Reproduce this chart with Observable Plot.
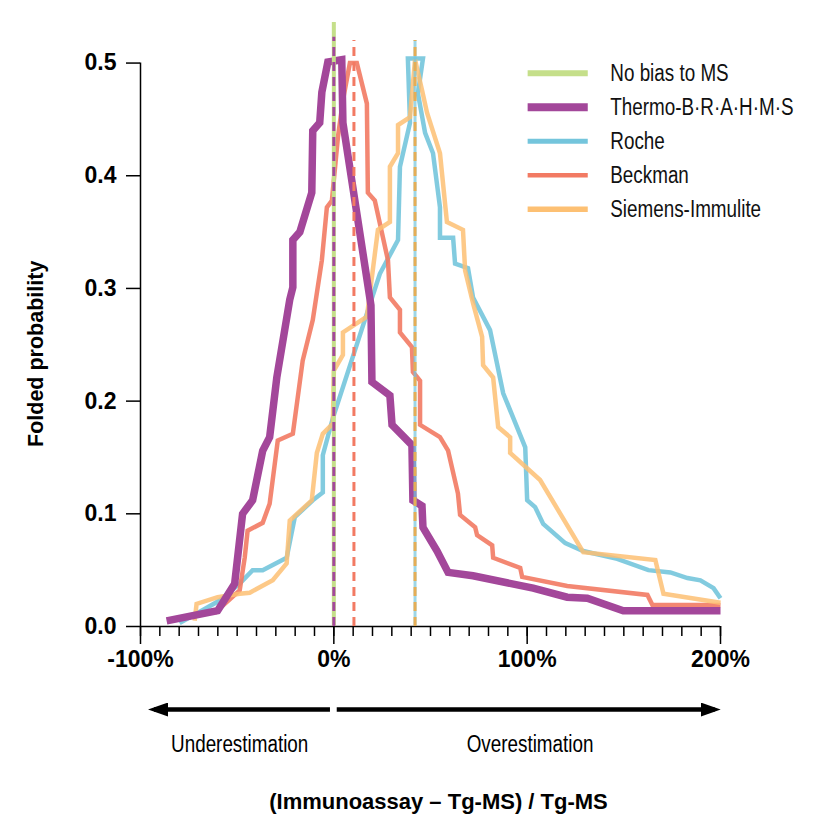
<!DOCTYPE html>
<html><head><meta charset="utf-8">
<script src="https://cdn.jsdelivr.net/npm/d3@7"></script>
<script src="https://cdn.jsdelivr.net/npm/@observablehq/plot@0.6"></script>
<style>
body{margin:0;background:#fff;}
#wrap{width:827px;background:#fff;}
#wrap svg{display:block;}
.title{font-family:"Liberation Sans",Arial,sans-serif;font-weight:bold;font-size:22px;line-height:26px;height:26px;margin-top:19px;padding-left:50px;text-align:center;color:#000;}
</style></head><body><div id="wrap"></div><script>
// ---- data ----
const thermoX = [-86.5,-60.1,-51.3,-47.2,-42.0,-36.8,-33.2,-29.5,-22.8,-21.2,-21.2,-17.6,-11.4,-10.9,-7.3,-6.2,-3.1,4.1,4.7,19.2,19.7,29.0,30.1,40.4,40.9,45.6,46.1,53.4,59.1,72.0,103.1,120.7,131.1,149.7,200];
const thermoY = [0.005,0.014,0.038,0.100,0.112,0.156,0.168,0.221,0.290,0.301,0.343,0.350,0.385,0.440,0.447,0.474,0.501,0.503,0.447,0.285,0.217,0.205,0.179,0.161,0.112,0.107,0.088,0.067,0.048,0.045,0.034,0.026,0.025,0.014,0.014];

const rocheX = [-79.8,-59.1,-48.7,-42.0,-36.8,-24.4,-20.2,-10.9,-5.7,-5.7,-0.5,23.8,33.2,34.2,39.4,38.3,46.1,43.5,47.2,51.3,54.9,54.9,61.7,62.7,69.4,72.0,80.8,87.6,99.0,100.0,104.1,108.3,119.7,129.0,146.6,162.7,174.1,182.9,189.6,196.4,200];
const rocheY = [0.003,0.023,0.038,0.050,0.050,0.061,0.097,0.112,0.119,0.152,0.185,0.313,0.343,0.408,0.447,0.504,0.504,0.473,0.438,0.420,0.372,0.345,0.345,0.322,0.318,0.292,0.263,0.207,0.159,0.112,0.106,0.091,0.074,0.067,0.060,0.050,0.048,0.043,0.041,0.034,0.025];

const beckmanX = [-61.7,-48.7,-46.1,-44.6,-36.8,-33.2,-29.0,-21.2,-16.1,-10.9,-6.2,-3.6,-1.0,2.1,4.7,8.3,11.9,17.1,17.6,21.2,28.0,29.0,34.2,34.2,40.4,40.9,44.6,44.6,54.9,59.1,64.2,65.3,73.1,74.1,81.9,82.4,96.4,97.4,120.7,162.2,164.8,200];
const beckmanY = [0.012,0.032,0.061,0.085,0.092,0.109,0.165,0.171,0.236,0.272,0.325,0.372,0.378,0.434,0.467,0.500,0.500,0.464,0.385,0.378,0.325,0.292,0.281,0.261,0.248,0.226,0.218,0.179,0.168,0.156,0.118,0.099,0.088,0.081,0.072,0.061,0.052,0.044,0.036,0.028,0.019,0.019];

const siemensX = [-72.0,-71.0,-60.1,-48.7,-43.5,-31.6,-24.4,-22.8,-11.4,-8.8,-5.7,-0.5,0.0,4.7,4.7,17.1,22.8,29.0,29.0,33.2,33.2,39.4,42.0,45.6,48.2,54.9,58.5,66.8,67.9,72.0,76.7,77.2,82.4,85.0,91.2,91.2,106.7,129.0,166.3,170.5,200];
const siemensY = [0.005,0.020,0.026,0.029,0.030,0.041,0.056,0.094,0.112,0.154,0.171,0.180,0.227,0.241,0.261,0.275,0.352,0.359,0.408,0.420,0.445,0.452,0.503,0.476,0.456,0.420,0.359,0.352,0.316,0.287,0.257,0.232,0.221,0.177,0.168,0.154,0.130,0.066,0.059,0.029,0.021];

// medians (vertical dashed reference lines)
const medianNames = ["No bias to MS","Thermo-B·R·A·H·M·S","Beckman","Roche","Siemens-Immulite"];
const medianX = [0, 0, 10.4, 42, 42];

// legend
const legendNames = ["No bias to MS","Thermo-B·R·A·H·M·S","Roche","Beckman","Siemens-Immulite"];
const colors = {
  "No bias to MS": "#c5df8a",
  "Thermo-B·R·A·H·M·S": "#a3479a",
  "Roche": "#74c5dc",
  "Beckman": "#f27a63",
  "Siemens-Immulite": "#fdc073"
};

// axes
const xMajorTicks = [-100, 0, 100, 200];
const xMinorTicks = d3.range(-100, 201, 10);
const yTicks = [0, 0.1, 0.2, 0.3, 0.4, 0.5];

// annotation below the axis
const arrowLabels = ["Underestimation", "Overestimation"];
const arrowFrom = [-2, 1.5];
const arrowTo = [-93, 197];
const arrowLabelX = [-48.7, 101.5];
const xTitle = "(Immunoassay – Tg-MS) / Tg-MS";
const yTitle = "Folded probability";

// ---- build ----
const FONT = '"Liberation Sans", Arial, Helvetica, sans-serif';

const toRows = (xs, ys) => xs.map((x, i) => ({x, y: ys[i]}));
const series = [
  {name: "Roche", rows: toRows(rocheX, rocheY), w: 4.5, o: 0.9},
  {name: "Beckman", rows: toRows(beckmanX, beckmanY), w: 4.5, o: 0.9},
  {name: "Siemens-Immulite", rows: toRows(siemensX, siemensY), w: 4.5, o: 0.85},
  {name: "Thermo-B·R·A·H·M·S", rows: toRows(thermoX, thermoY), w: 7.5, o: 1}
];
const medians = medianNames.map((name, i) => ({name, x: medianX[i]}));
const legendW = [6, 8, 5, 4.5, 5.5];
const legend = legendNames.map((name, i) => ({name, y: 0.491 - i * 0.0302, w: legendW[i]}));

const lineOpts = {strokeLinejoin: "miter", strokeMiterlimit: 3, strokeLinecap: "butt"};

const main = Plot.plot({
  width: 827, height: 690,
  marginTop: 22, marginBottom: 64, marginLeft: 140, marginRight: 107,
  x: {domain: [-100, 200]},
  y: {domain: [0, 0.536]},
  style: {fontFamily: FONT, background: "white", color: "black", overflow: "visible"},
  marks: [
    Plot.axisX({ticks: xMinorTicks, tickSize: 10, text: null, label: null, strokeWidth: 1.5}),
    Plot.axisX({ticks: xMajorTicks, tickSize: 18, tickPadding: 6, tickFormat: d => d + "%", label: null,
      fontSize: 23, fontWeight: "bold", strokeWidth: 1.5}),
    Plot.axisY({ticks: yTicks, tickSize: 14, tickPadding: 10, tickFormat: d3.format(".1f"), label: null,
      fontSize: 23, fontWeight: "bold", strokeWidth: 1.5}),
    Plot.ruleY([0], {x1: -100, x2: 200, stroke: "black", strokeWidth: 1.5}),
    Plot.ruleX([-100], {y1: 0, y2: 0.5, stroke: "black", strokeWidth: 1.5}),
    Plot.text([yTitle], {x: -100, y: 0.242, dx: -104, text: d => d, rotate: -90, fontSize: 21.5, fontWeight: "bold", fill: "black"}),
    ...series.map(s => Plot.line(s.rows, {x: "x", y: "y", stroke: colors[s.name], strokeWidth: s.w, strokeOpacity: s.o, ...lineOpts})),
    // median reference lines
    Plot.ruleX(medians.filter(d => d.name === "No bias to MS"), {x: "x", y1: 0, y2: 0.536, stroke: colors["No bias to MS"], strokeWidth: 4}),
    Plot.ruleX(medians.filter(d => d.name === "Thermo-B·R·A·H·M·S"), {x: "x", y1: 0, y2: 0.523, stroke: colors["Thermo-B·R·A·H·M·S"], strokeWidth: 3, strokeDasharray: "9,6"}),
    Plot.ruleX(medians.filter(d => d.name === "Beckman"), {x: "x", y1: 0, y2: 0.52, stroke: colors["Beckman"], strokeWidth: 3, strokeDasharray: "9,6"}),
    Plot.ruleX(medians.filter(d => d.name === "Roche"), {x: "x", y1: 0, y2: 0.52, stroke: colors["Roche"], strokeWidth: 3, strokeOpacity: 0.7}),
    Plot.ruleX(medians.filter(d => d.name === "Siemens-Immulite"), {x: "x", y1: 0, y2: 0.52, stroke: "#e6ad55", strokeWidth: 3, strokeDasharray: "9,6"}),
    // legend
    ...legend.map(d => Plot.ruleY([d], {y: "y", x1: 100.5, x2: 131.6, stroke: colors[d.name], strokeWidth: d.w})),
    Plot.text(legend, {x: 143, y: "y", text: "name", textAnchor: "start", fontSize: 23, fill: "#111"})
  ]
});

const arrows = arrowLabels.map((label, i) => ({label, from: arrowFrom[i], to: arrowTo[i], lx: arrowLabelX[i]}));
const bottom = Plot.plot({
  width: 827, height: 80,
  marginTop: 0, marginBottom: 0, marginLeft: 140, marginRight: 107,
  x: {domain: [-100, 200], axis: null},
  y: {domain: [0, 1], axis: null},
  style: {fontFamily: FONT, background: "white", color: "black", overflow: "visible"},
  marks: [
    Plot.link(arrows, {x1: "from", x2: "to", y1: 0.7625, y2: 0.7625, stroke: "black", strokeWidth: 4.5, strokeLinecap: "butt"}),
    Plot.text(arrows, {x: "lx", y: 0.32, text: "label", fontSize: 23, fill: "black"})
  ]
});

// condensed look for the light text (horizontal squeeze around each anchor)
function condense(sel, k) {
  sel.each(function () {
    const t = this.getAttribute("transform") || "";
    this.setAttribute("transform", `${t} scale(${k},1)`);
  });
}
const textGroups = d3.select(main).selectAll('g[aria-label="text"]').nodes();
condense(d3.select(textGroups[textGroups.length - 1]).selectAll("text"), 0.82);
condense(d3.select(bottom).selectAll('g[aria-label="text"] text'), 0.82);

// filled arrowheads
const svgB = d3.select(bottom);
svgB.append("defs").append("marker")
  .attr("id", "ahead").attr("viewBox", "0 0 20 14").attr("refX", 14).attr("refY", 7)
  .attr("markerWidth", 20).attr("markerHeight", 14).attr("markerUnits", "userSpaceOnUse").attr("orient", "auto")
  .append("path").attr("d", "M0,0L20,7L0,14Z").attr("fill", "black");
svgB.selectAll('g[aria-label="link"] path').attr("marker-end", "url(#ahead)");

const wrap = document.getElementById("wrap");
wrap.appendChild(main);
wrap.appendChild(bottom);
const t = document.createElement("div");
t.className = "title";
t.textContent = xTitle;
wrap.appendChild(t);
</script></body></html>
